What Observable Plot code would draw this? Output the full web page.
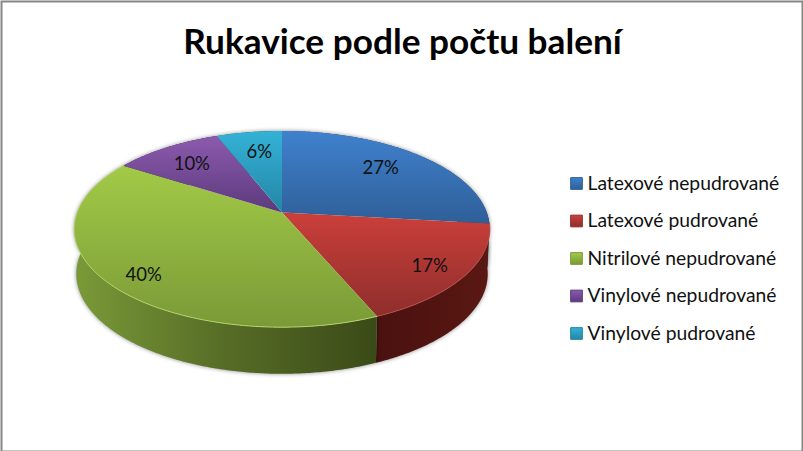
<!DOCTYPE html>
<html lang="cs">
<head>
<meta charset="utf-8">
<script src="https://cdn.jsdelivr.net/npm/d3@7"></script>
<script src="https://cdn.jsdelivr.net/npm/@observablehq/plot@0.6"></script>
<style>html,body{margin:0;padding:0;background:#fff}svg{display:block}</style>
</head>
<body>
<div id="chart"></div>
<script>
const chartTitle = "Rukavice podle počtu balení";
const categories = ["Latexové nepudrované", "Latexové pudrované", "Nitrilové nepudrované", "Vinylové nepudrované", "Vinylové pudrované"];
const shares = [26.8, 16.8, 40.4, 10, 6];

// styling, separate from the data
const topLight = ["#4081cd", "#cb3f3b", "#a2ca47", "#8c5aae", "#33b2d6"];
const topDark = ["#2e5f98", "#8e2e2b", "#7a9a37", "#5c3a7c", "#2486a6"];
const sideLeft = ["#254d7c", "#4a1210", "#7a9a38", "#4a2e66", "#1b6d87"];
const sideMid = ["#214770", "#511410", "#566c26", "#42295c", "#18647c"];
const sideRight = ["#1c3d63", "#5a1814", "#3a4a17", "#3a2350", "#155a70"];
const rim = ["none", "#b9504c", "#b6d66c", "none", "none"];
const font = "Lato, Carlito, 'Open Sans', sans-serif";

// perspective view of the disc: centre, radii, foreshortening, thickness
const disc = {cx: 281.5, cy: 212, rx: 204.8, ry: 95.3, k: 0.169, depth: 44.5, shrink: 0.99};
const project = (a, r = 1, bottom = false) => {
  const s = Math.sin(a) * r, c = Math.cos(a) * r, w = 1 + disc.k * c;
  return [
    disc.cx + (bottom ? disc.shrink : 1) * disc.rx * s / w,
    disc.cy - disc.ry * c / w + (bottom ? disc.depth / Math.pow(w, 0.25) : 0)
  ];
};
const arcAngles = (a0, a1) => {
  const n = Math.max(2, Math.ceil((a1 - a0) / 0.01));
  return d3.range(n + 1).map(i => a0 + (a1 - a0) * i / n);
};

const slices = d3.pie().sort(null).value(d => d)(shares);
const topPath = slices.map(p => [[disc.cx, disc.cy], ...arcAngles(p.startAngle, p.endAngle).map(a => project(a))]);
const rimPath = slices.map(p => arcAngles(p.startAngle, p.endAngle).map(a => project(a)));
const sidePath = slices.map(p => {
  const arc = arcAngles(p.startAngle, p.endAngle);
  return [...arc.map(a => project(a)), ...arc.slice().reverse().map(a => project(a, 1, true))];
});

const labelReach = [0.72, 0.83, 0.85, 0.75, 0.72];
const labelShift = [[-3, -2], [-1, 2], [8, 5], [-1, 2], [2, 0]];
const labelRows = slices.map((p, i) => {
  const [x, y] = project((p.startAngle + p.endAngle) / 2, labelReach[i]);
  return {x: x + labelShift[i][0], y: y + labelShift[i][1], text: d3.format(".0%")(shares[i] / 100)};
});
const legendRows = categories.map((name, i) => ({name, i, y: 183 + i * 37.5}));

const defs = () => {
  const d = d3.create("svg:defs");
  const grad = (id, horizontal, colors) => {
    const g = d.append("linearGradient").attr("id", id)
      .attr("x1", 0).attr("y1", 0).attr("x2", horizontal ? 1 : 0).attr("y2", horizontal ? 0 : 1);
    colors.forEach((c, j) => g.append("stop").attr("offset", j / (colors.length - 1)).attr("stop-color", c));
  };
  categories.forEach((_, i) => {
    grad(`top${i}`, false, [topLight[i], topDark[i]]);
    grad(`side${i}`, true, [sideLeft[i], sideMid[i], sideRight[i]]);
  });
  return d.node();
};

const poly = (pts, fill, extra = {}) => Plot.line(pts, {x: d => d[0], y: d => d[1], fill, stroke: "none", curve: "linear", ...extra});

const chart = Plot.plot({
  width: 803,
  height: 451,
  margin: 0,
  style: {background: "#fff", fontFamily: font},
  x: {domain: [0, 803], range: [0, 803], axis: null},
  y: {domain: [0, 451], range: [0, 451], axis: null},
  marks: [
    defs,
    ...sidePath.map((pts, i) => poly(pts, `url(#side${i})`, {imageFilter: "drop-shadow(0px 0px 2px rgba(0,0,0,0.45))"})),
    ...topPath.map((pts, i) => poly(pts, `url(#top${i})`)),
    ...rimPath.map((pts, i) => Plot.line(pts, {x: d => d[0], y: d => d[1], stroke: rim[i], strokeWidth: 1, curve: "linear"})),
    Plot.text(labelRows, {x: "x", y: "y", text: "text", fontSize: 18.5, fill: "#111", fontFamily: font}),
    Plot.dot(legendRows, {x: 576, y: "y", symbol: "square", r: 6.6, fill: d => `url(#top${d.i})`, stroke: d => topDark[d.i], strokeWidth: 1}),
    Plot.text(legendRows, {x: 587, y: "y", text: "name", textAnchor: "start", fontSize: 19.3, fill: "#111", fontFamily: font}),
    Plot.text([chartTitle], {x: 402, y: 42, text: d => d, fontSize: 35.2, fontWeight: "bold", fill: "#000", fontFamily: font}),
    Plot.frame({stroke: "#868686", strokeWidth: 2, insetTop: 1, insetLeft: 1, insetRight: 1, insetBottom: 0})
  ]
});
document.getElementById("chart").append(chart);
</script>
</body>
</html>
